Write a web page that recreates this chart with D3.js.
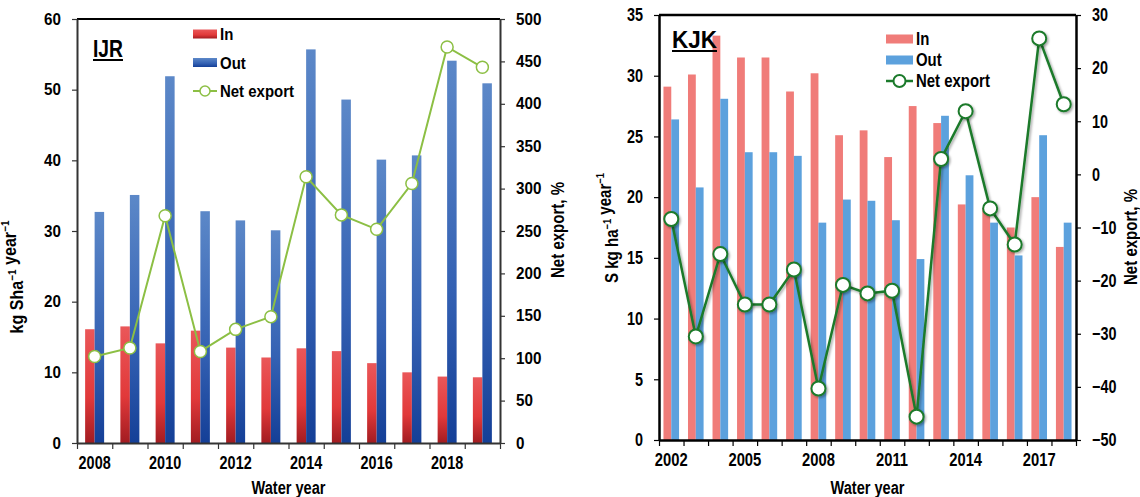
<!DOCTYPE html>
<html>
<head>
<meta charset="utf-8">
<script src="https://cdn.jsdelivr.net/npm/d3@7"></script>
<style>
  html, body { margin: 0; padding: 0; background: #fff; }
  svg { display: block; }
</style>
</head>
<body>
<svg id="chart" width="1140" height="497"></svg>
<script>
// IJR watershed: sulfur input / output and net export
const yearsIJR = [2008, 2009, 2010, 2011, 2012, 2013, 2014, 2015, 2016, 2017, 2018, 2019];
const inIJR  = [16.1, 16.5, 14.1, 15.9, 13.5, 12.1, 13.4, 13.0, 11.3, 10.0, 9.4, 9.3];
const outIJR = [32.7, 35.1, 51.9, 32.8, 31.5, 30.1, 55.7, 48.6, 40.1, 40.7, 54.1, 50.9];
const netIJR = [102, 112, 268, 108, 134, 149, 314, 269, 252, 306, 467, 443];
const ticksLeftIJR  = [0, 10, 20, 30, 40, 50, 60];
const ticksRightIJR = [0, 50, 100, 150, 200, 250, 300, 350, 400, 450, 500];
const labelYearsIJR = [2008, 2010, 2012, 2014, 2016, 2018];

// KJK watershed
const yearsKJK = [2002, 2003, 2004, 2005, 2006, 2007, 2008, 2009, 2010, 2011, 2012, 2013, 2014, 2015, 2016, 2017, 2018];
const inKJK  = [29.1, 30.1, 33.3, 31.5, 31.5, 28.7, 30.2, 25.1, 25.5, 23.3, 27.5, 26.1, 19.4, 19.1, 17.5, 20.0, 15.9];
const outKJK = [26.4, 20.8, 28.1, 23.7, 23.7, 23.4, 17.9, 19.8, 19.7, 18.1, 14.9, 26.7, 21.8, 17.9, 15.2, 25.1, 17.9];
const netKJK = [-8.4, -30.5, -15.0, -24.5, -24.5, -17.9, -40.3, -20.8, -22.4, -21.9, -45.6, 2.9, 11.9, -6.4, -13.2, 25.6, 13.2];
const ticksLeftKJK  = [0, 5, 10, 15, 20, 25, 30, 35];
const ticksRightKJK = [-50, -40, -30, -20, -10, 0, 10, 20, 30];
const labelYearsKJK = [2002, 2005, 2008, 2011, 2014, 2017];

const legendItems = ["In", "Out", "Net export"];

const FONT = "'Liberation Sans',Arial,sans-serif";
const svg = d3.select("#chart").style("font-family", FONT);
const defs = svg.append("defs");

// squeeze glyphs horizontally to get a narrow bold face
function condense(sel, f) {
  sel.each(function () {
    const w = this.getComputedTextLength();
    if (w > 0) d3.select(this).attr("textLength", w * f).attr("lengthAdjust", "spacingAndGlyphs");
  });
  return sel;
}
function fitTo(sel, w) {
  return sel.attr("textLength", w).attr("lengthAdjust", "spacingAndGlyphs");
}

function vGrad(id, stops) {
  const g = defs.append("linearGradient").attr("id", id)
    .attr("x1", 0).attr("y1", 0).attr("x2", 0).attr("y2", 1);
  stops.forEach(([o, c]) => g.append("stop").attr("offset", o).attr("stop-color", c));
}
vGrad("redGrad", [[0, "#ea5759"], [0.6, "#e1393a"], [1, "#a21c21"]]);
vGrad("blueGrad", [[0, "#5c88c8"], [0.6, "#3461b3"], [1, "#143f97"]]);

const shadow = defs.append("filter").attr("id", "shadow")
  .attr("x", "-50%").attr("y", "-50%").attr("width", "200%").attr("height", "200%");
shadow.append("feDropShadow").attr("dx", 1.5).attr("dy", 1.5).attr("stdDeviation", 1.2)
  .attr("flood-color", "#000").attr("flood-opacity", 0.35);

function unitLabel(g, x, y, parts, size) {
  const t = g.append("text")
    .attr("transform", `translate(${x},${y}) rotate(-90)`)
    .attr("text-anchor", "middle")
    .attr("font-weight", "bold")
    .attr("font-size", size);
  parts.forEach(([s, sup]) => {
    if (sup) {
      t.append("tspan").attr("dy", -size * 0.38).attr("font-size", size * 0.62).text(s);
      t.append("tspan").attr("dy", size * 0.38).text("");
    } else {
      t.append("tspan").text(s);
    }
  });
  return t;
}

function drawPanel(cfg) {
  const g = svg.append("g");
  const x = d3.scaleBand().domain(cfg.years).range([cfg.x0, cfg.x1]).padding(0);
  const edges = d3.scaleLinear().domain([0, cfg.years.length]).range([cfg.x0, cfg.x1]);
  const yL = d3.scaleLinear().domain(cfg.leftDomain).range([cfg.yBottom, cfg.yTop]);
  const yR = d3.scaleLinear().domain(cfg.rightDomain).range([cfg.yBottom, cfg.yTop]);

  // bars
  const cx = d => x(d) + x.bandwidth() / 2;
  g.append("g").selectAll("rect").data(cfg.years).join("rect")
    .attr("x", (d) => cx(d) - cfg.barW)
    .attr("width", cfg.barW)
    .attr("y", (d, i) => yL(cfg.inV[i]))
    .attr("height", (d, i) => yL(0) - yL(cfg.inV[i]))
    .attr("fill", cfg.inFill);
  g.append("g").selectAll("rect").data(cfg.years).join("rect")
    .attr("x", (d) => cx(d))
    .attr("width", cfg.barW)
    .attr("y", (d, i) => yL(cfg.outV[i]))
    .attr("height", (d, i) => yL(0) - yL(cfg.outV[i]))
    .attr("fill", cfg.outFill);

  // frame top
  g.append("line").attr("x1", cfg.x0).attr("x2", cfg.x1)
    .attr("y1", cfg.yTop).attr("y2", cfg.yTop)
    .attr("stroke", "#000").attr("stroke-width", cfg.frameW);

  // net export line
  const line = d3.line().x((d, i) => cx(cfg.years[i])).y(d => yR(d));
  g.append("path").datum(cfg.netV)
    .attr("d", line).attr("fill", "none")
    .attr("stroke", cfg.lineColor).attr("stroke-width", cfg.lineW)
    .attr("filter", cfg.shadow ? "url(#shadow)" : null);
  g.append("g").selectAll("circle").data(cfg.netV).join("circle")
    .attr("cx", (d, i) => cx(cfg.years[i]))
    .attr("cy", d => yR(d))
    .attr("r", cfg.markerR)
    .attr("fill", "#fff")
    .attr("stroke", cfg.lineColor)
    .attr("stroke-width", cfg.markerSW)
    .attr("filter", cfg.shadow ? "url(#shadow)" : null);

  // axes
  const styleAxis = (sel, size, f) => {
    sel.selectAll(".domain").attr("stroke", cfg.axisColor).attr("stroke-width", cfg.frameW);
    sel.selectAll(".tick line").attr("stroke", cfg.axisColor).attr("stroke-width", 1.2);
    const t = sel.selectAll("text").attr("font-family", FONT).attr("font-weight", "bold")
      .attr("font-size", size).attr("fill", "#000");
    if (f) condense(t, f);
  };
  const aL = g.append("g").attr("transform", `translate(${cfg.x0},0)`)
    .call(d3.axisLeft(yL).tickValues(cfg.ticksL).tickSize(5).tickPadding(cfg.tickPadY).tickSizeOuter(0));
  styleAxis(aL, cfg.yFont, cfg.yCond);
  const aR = g.append("g").attr("transform", `translate(${cfg.x1},0)`)
    .call(d3.axisRight(yR).tickValues(cfg.ticksR).tickSize(5).tickPadding(cfg.tickPadY).tickSizeOuter(0));
  styleAxis(aR, cfg.yFont, cfg.yCond);

  // x axis: boundary ticks + year labels
  const aX = g.append("g").attr("transform", `translate(0,${cfg.yBottom})`)
    .call(d3.axisBottom(edges).tickValues(d3.range(cfg.years.length + 1)).tickSize(6).tickFormat("").tickSizeOuter(0));
  styleAxis(aX, cfg.xFont);
  const aXL = g.append("g").attr("transform", `translate(0,${cfg.yBottom})`)
    .call(d3.axisBottom(x).tickValues(cfg.labelYears).tickSize(0).tickPadding(cfg.tickPadX));
  aXL.select(".domain").remove();
  styleAxis(aXL, cfg.xFont, cfg.xCond);

  // titles
  const wy = g.append("text").attr("x", (cfg.x0 + cfg.x1) / 2).attr("y", 494)
    .attr("text-anchor", "middle").attr("font-weight", "bold").attr("font-size", 18)
    .text("Water year");
  fitTo(wy, 74);
  fitTo(unitLabel(g, cfg.yTitleL[0], cfg.yTitleL[1], cfg.unitParts, 18), cfg.unitLen);
  const ne = g.append("text")
    .attr("transform", `translate(${cfg.yTitleR[0]},${cfg.yTitleR[1]}) rotate(-90)`)
    .attr("text-anchor", "middle").attr("font-weight", "bold").attr("font-size", 18)
    .text("Net export, %");
  fitTo(ne, 96);

  // site label
  const site = g.append("text").attr("x", cfg.site[0]).attr("y", cfg.site[1])
    .attr("font-weight", "bold").attr("font-size", cfg.siteSize).text(cfg.siteName);
  fitTo(site, cfg.siteW);
  g.append("line").attr("x1", cfg.site[0]).attr("x2", cfg.site[0] + cfg.siteW)
    .attr("y1", cfg.site[1] + 3).attr("y2", cfg.site[1] + 3)
    .attr("stroke", "#000").attr("stroke-width", 2);

  // legend
  const lg = g.append("g").attr("transform", `translate(${cfg.legend[0]},${cfg.legend[1]})`);
  legendItems.forEach((name, i) => {
    const yy = i * cfg.legendGap;
    if (i < 2) {
      lg.append("rect").attr("x", 0).attr("y", yy - 4.5).attr("width", cfg.swW).attr("height", 9)
        .attr("fill", i === 0 ? cfg.inFill : cfg.outFill);
    } else {
      lg.append("line").attr("x1", 0).attr("x2", cfg.swW).attr("y1", yy).attr("y2", yy)
        .attr("stroke", cfg.lineColor).attr("stroke-width", cfg.lineW);
      lg.append("circle").attr("cx", cfg.swW / 2).attr("cy", yy).attr("r", cfg.markerR - 1)
        .attr("fill", "#fff").attr("stroke", cfg.lineColor).attr("stroke-width", cfg.markerSW);
    }
    const t = lg.append("text").attr("x", cfg.swW + 3).attr("y", yy).attr("dy", "0.36em")
      .attr("font-weight", "bold").attr("font-size", cfg.legendFont).text(name);
    condense(t, cfg.legendCond);
  });
}

drawPanel({
  years: yearsIJR, inV: inIJR, outV: outIJR, netV: netIJR,
  x0: 77, x1: 500, yTop: 19, yBottom: 443,
  leftDomain: [0, 60], rightDomain: [0, 500],
  ticksL: ticksLeftIJR, ticksR: ticksRightIJR, labelYears: labelYearsIJR,
  barW: 9.5, inFill: "url(#redGrad)", outFill: "url(#blueGrad)",
  lineColor: "#8cbf44", lineW: 2, markerR: 6, markerSW: 1.5, shadow: false,
  axisColor: "#333", frameW: 2, yFont: 16, yCond: 0.95, xFont: 18, xCond: 0.8,
  tickPadY: 11, tickPadX: 13,
  yTitleL: [23, 277], yTitleR: [564, 230], unitLen: 113,
  unitParts: [["kg Sha"], ["−1", true], [" year"], ["−1", true]],
  site: [93, 57], siteName: "IJR", siteSize: 23, siteW: 30,
  legend: [193, 34], legendGap: 28.5, swW: 24, legendFont: 17, legendCond: 0.88
});

drawPanel({
  years: yearsKJK, inV: inKJK, outV: outKJK, netV: netKJK,
  x0: 659, x1: 1076, yTop: 15, yBottom: 440,
  leftDomain: [0, 35], rightDomain: [-50, 30],
  ticksL: ticksLeftKJK, ticksR: ticksRightKJK, labelYears: labelYearsKJK,
  barW: 7.8, inFill: "#f07c79", outFill: "#5ca1dd",
  lineColor: "#1b7a2b", lineW: 2.5, markerR: 7, markerSW: 2, shadow: true,
  axisColor: "#000", frameW: 2.5, yFont: 18, yCond: 0.8, xFont: 18, xCond: 0.82,
  tickPadY: 11, tickPadX: 13,
  yTitleL: [618, 228], yTitleR: [1137, 237], unitLen: 110,
  unitParts: [["S kg ha"], ["−1", true], [" year"], ["−1", true]],
  site: [672, 48], siteName: "KJK", siteSize: 24, siteW: 45,
  legend: [886, 39], legendGap: 21, swW: 27, legendFont: 18, legendCond: 0.83
});
</script>
</body>
</html>
